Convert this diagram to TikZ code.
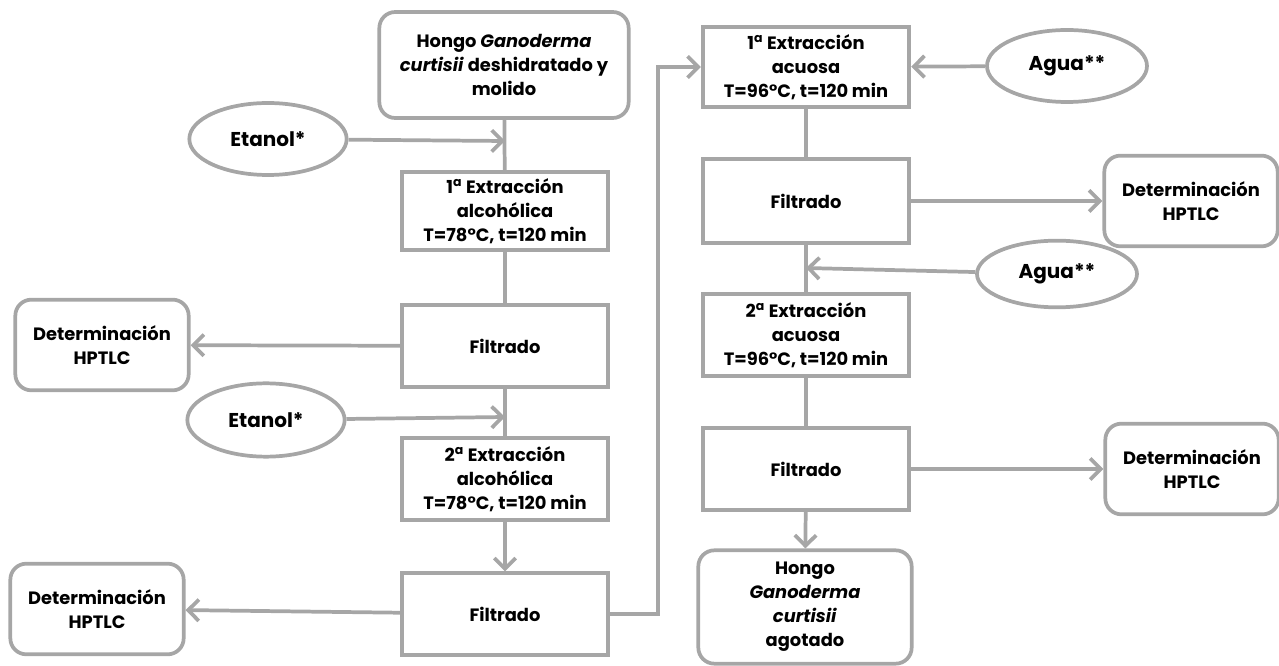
\documentclass[tikz,border=0pt]{standalone}
\usepackage{fontspec}
\setmainfont{Poppins}
\usetikzlibrary{arrows.meta,shapes.geometric}
\definecolor{linegray}{RGB}{166,166,166}
\newcommand{\ord}[1]{#1\textsuperscript{a}}

\begin{document}
\begin{tikzpicture}[
    x=0.75pt,y=-0.75pt,
    every node/.style={font=\fontsize{13.4}{18}\selectfont\bfseries,align=center,line width=2.8pt,draw=linegray,inner sep=2pt},
    stage/.style={rectangle,minimum width=154.5pt,minimum height=61pt},
    result/.style={rectangle,rounded corners=12pt,minimum width=130pt,minimum height=68pt},
    solvent/.style={ellipse,minimum width=118pt,minimum height=54pt,font=\fontsize{15}{18}\selectfont\bfseries},
    flow/.style={-{Straight Barb[length=8pt,width=16pt,line width=2.8pt]},draw=linegray,line width=2.8pt},
    link/.style={draw=linegray,line width=2.8pt}
  ]
    \useasboundingbox (0,0) rectangle (1279,666);

    \node[result,minimum width=187pt,minimum height=79.5pt] (hongo1) at (504,65)
      {Hongo \textit{Ganoderma}\\ \textit{curtisii} deshidratado y\\ molido};
    \node[solvent] (etanol1) at (268,139) {Etanol*};
    \node[stage,minimum height=59pt] (ext1) at (505,211)
      {\ord{1} Extracción\\ alcohólica\\ T=78°C, t=120 min};
    \node[stage] (fil1) at (505,346) {Filtrado};
    \node[result] (det1) at (102,345) {Determinación\\ HPTLC};
    \node[solvent,minimum height=55pt] (etanol2) at (266,420) {Etanol*};
    \node[stage] (ext2) at (505,479)
      {\ord{2} Extracción\\ alcohólica\\ T=78°C, t=120 min};
    \node[stage] (fil2) at (505,614) {Filtrado};
    \node[result] (det2) at (97,609) {Determinación\\ HPTLC};

    \node[stage,minimum width=155pt,minimum height=60pt] (acu1) at (806,67)
      {\ord{1} Extracción\\ acuosa\\ T=96°C, t=120 min};
    \node[solvent,minimum width=120pt] (agua1) at (1067,66) {Agua**};
    \node[stage,minimum width=155pt,minimum height=63pt] (fil3) at (806,201) {Filtrado};
    \node[result] (det3) at (1191,201) {Determinación\\ HPTLC};
    \node[solvent,minimum width=120pt,minimum height=50pt] (agua2) at (1057,274) {Agua**};
    \node[stage,minimum width=155pt,minimum height=62pt] (acu2) at (806,335)
      {\ord{2} Extracción\\ acuosa\\ T=96°C, t=120 min};
    \node[stage,minimum width=155pt] (fil4) at (806,469) {Filtrado};
    \node[result] (det4) at (1192,469) {Determinación\\ HPTLC};
    \node[result,minimum width=160pt,minimum height=85pt] (hongo2) at (805,607)
      {Hongo\\ \textit{Ganoderma}\\ \textit{curtisii}\\ agotado};

    \coordinate (j1) at (505,141);
    \coordinate (j2) at (505,417);
    \coordinate (j3) at (806,268);
    \coordinate (bend) at (658,614);

    \draw[link] (hongo1) -- (ext1);
    \draw[flow] (etanol1) -- (j1);
    \draw[link] (ext1) -- (fil1);
    \draw[flow] (fil1) -- (det1);
    \draw[link] (fil1) -- (ext2);
    \draw[flow] (etanol2) -- (j2);
    \draw[flow] (ext2) -- (fil2);
    \draw[flow] (fil2) -- (det2);
    \draw[flow] (fil2) -- (bend) |- (acu1);
    \draw[flow] (agua1) -- (acu1);
    \draw[link] (acu1) -- (fil3);
    \draw[flow] (fil3) -- (det3);
    \draw[link] (fil3) -- (acu2);
    \draw[flow] (agua2) -- (j3);
    \draw[link] (acu2) -- (fil4);
    \draw[flow] (fil4) -- (det4);
    \draw[flow] (fil4) -- (hongo2);
  \end{tikzpicture}
\end{document}
